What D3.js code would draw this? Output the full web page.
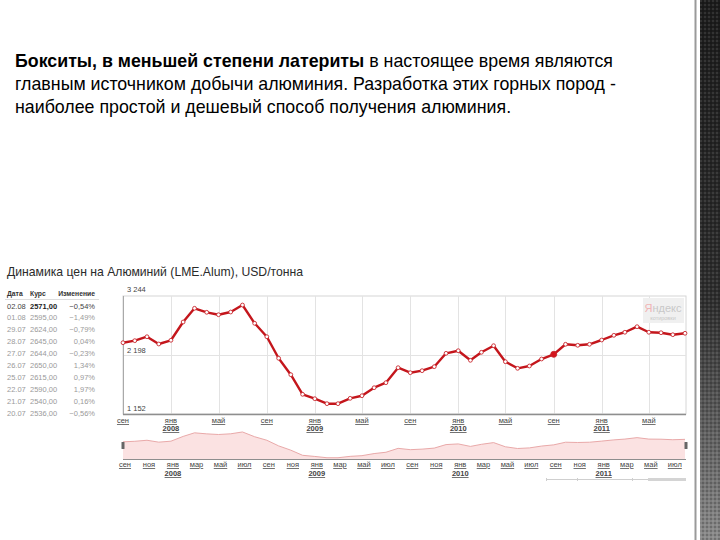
<!DOCTYPE html>
<html><head><meta charset="utf-8">
<script src="https://cdn.jsdelivr.net/npm/d3@7"></script>
<style>html,body{margin:0;padding:0;background:#fff;}svg{display:block;}</style>
</head><body>
<svg id="c" width="720" height="540"></svg>
<script>
// ---------- data ----------
const startMonth = "2007-09";               // first monthly point
const values = [2416,2452,2522,2393,2459,2783,3026,2955,2912,2960,3084,2760,
                2522,2140,1849,1501,1423,1335,1335,1430,1476,1618,1707,1973,
                1884,1920,1991,2228,2274,2104,2246,2363,2079,1962,2003,2127,
                2210,2388,2370,2388,2464,2547,2601,2700,2601,2593,2558,2583];
const highlightIndex = 36;
const yTicks = [1152, 2198, 3244];
const monthNames = ["янв","фев","мар","апр","май","июн","июл","авг","сен","окт","ноя","дек"];
const tableDates   = ["02.08","01.08","29.07","28.07","27.07","26.07","25.07","22.07","21.07","20.07"];
const tableRates   = ["2571,00","2595,00","2624,00","2645,00","2644,00","2650,00","2615,00","2590,00","2540,00","2536,00"];
const tableChanges = ["\u22120,54%","\u22121,49%","\u22120,79%","0,04%","\u22120,23%","1,34%","0,97%","1,97%","0,16%","\u22120,56%"];
const tableHeader  = ["Дата","Курс","Изменение"];
const chartTitle = "Динамика цен на Алюминий (LME.Alum), USD/тонна";

const parse = d3.timeParse("%Y-%m");
const t0 = parse(startMonth);
const series = values.map((v,i)=>({date:d3.timeMonth.offset(t0,i), value:v}));

const svg = d3.select("#c");
const F = "'Liberation Sans', Arial, sans-serif";

// ---------- slide text ----------
const txt = svg.append("text").attr("font-family",F).attr("font-size",17.8).attr("fill","#000");
const l1 = txt.append("tspan").attr("x",15).attr("y",67);
l1.append("tspan").attr("font-weight","bold").text("Бокситы, в меньшей степени латериты");
l1.append("tspan").text(" в настоящее время являются");
txt.append("tspan").attr("x",15).attr("y",90).text("главным источником добычи алюминия. Разработка этих горных пород  -");
txt.append("tspan").attr("x",15).attr("y",113).text("наиболее простой и дешевый способ получения алюминия.");

// ---------- right decoration ----------
const defs = svg.append("defs");
const g1 = defs.append("linearGradient").attr("id","dk").attr("x1",0).attr("y1",0).attr("x2",0).attr("y2",1);
g1.append("stop").attr("offset","0").attr("stop-color","#1c1c1c");
g1.append("stop").attr("offset","0.55").attr("stop-color","#2e2e2e");
g1.append("stop").attr("offset","1").attr("stop-color","#8a8a8a");
const pat = defs.append("pattern").attr("id","dots").attr("width",4).attr("height",4).attr("patternUnits","userSpaceOnUse");
pat.append("circle").attr("cx",1).attr("cy",1).attr("r",1).attr("fill","rgba(255,255,255,0.12)");
pat.append("circle").attr("cx",3).attr("cy",3).attr("r",1).attr("fill","rgba(0,0,0,0.25)");
svg.append("rect").attr("x",700).attr("y",0).attr("width",20).attr("height",540).attr("fill","url(#dk)");
svg.append("rect").attr("x",700).attr("y",0).attr("width",20).attr("height",540).attr("fill","url(#dots)");
svg.append("rect").attr("x",694.5).attr("y",0).attr("width",2).attr("height",540).attr("fill","#9a9a9a");

// ---------- chart title ----------
svg.append("text").attr("x",7).attr("y",276).attr("font-family",F).attr("font-size",12.2)
   .attr("fill","#2a2a2a").text(chartTitle);

// ---------- table ----------
const tf = 7.5;
const hdr = svg.append("g").attr("font-family",F).attr("font-size",6.8).attr("font-weight","bold").attr("fill","#333");
hdr.append("text").attr("x",7).attr("y",296).text(tableHeader[0]);
hdr.append("text").attr("x",30).attr("y",296).text(tableHeader[1]);
hdr.append("text").attr("x",95).attr("y",296).attr("text-anchor","end").text(tableHeader[2]);
svg.append("line").attr("x1",5).attr("x2",99).attr("y1",299.5).attr("y2",299.5).attr("stroke","#ddd");
const rowY = d3.scaleLinear().domain([0,9]).range([308.5,415.5]);
tableDates.forEach((d,i)=>{
  const col = i===0 ? "#444" : "#9a9a9a";
  const g = svg.append("g").attr("font-family",F).attr("font-size",tf).attr("fill",col);
  g.append("text").attr("x",7).attr("y",rowY(i)).text(d);
  g.append("text").attr("x",30).attr("y",rowY(i)).attr("font-weight",i===0?"bold":"normal").attr("fill",i===0?"#222":col).text(tableRates[i]);
  g.append("text").attr("x",95).attr("y",rowY(i)).attr("text-anchor","end").text(tableChanges[i]);
});

// ---------- main chart ----------
const pL=123, pR=686, pT=296, pB=414;
const x = d3.scaleTime().domain([series[0].date, series[series.length-1].date]).range([pL, 685]);
const y = d3.scaleLinear().domain([yTicks[0], yTicks[2]]).range([pB, pT]);

// frame
svg.append("rect").attr("x",pL).attr("y",pT).attr("width",pR-pL).attr("height",pB-pT)
   .attr("fill","#fff").attr("stroke","#d6d6d6");
// grid
const gridTicks = d3.timeMonth.range(x.domain()[0], d3.timeMonth.offset(x.domain()[1],1))
   .filter(d=>[0,4,8].includes(d.getMonth()));
svg.append("g").selectAll("line").data(gridTicks).join("line")
   .attr("x1",d=>Math.round(x(d))+0.5).attr("x2",d=>Math.round(x(d))+0.5).attr("y1",pT).attr("y2",pB)
   .attr("stroke","#e3e3e3");
svg.append("line").attr("x1",pL).attr("x2",pR).attr("y1",Math.round(y(yTicks[1]))+0.5).attr("y2",Math.round(y(yTicks[1]))+0.5).attr("stroke","#e3e3e3");
// axis lines
svg.append("line").attr("x1",pL+0.5).attr("x2",pL+0.5).attr("y1",pT).attr("y2",pB).attr("stroke","#a9a9a9");
svg.append("line").attr("x1",pL).attr("x2",pR).attr("y1",pB+0.5).attr("y2",pB+0.5).attr("stroke","#8e8e8e").attr("stroke-width",1.5);

// y labels
const fmt = v => d3.format(",")(v).replace(/,/g," ");
svg.append("g").attr("font-family",F).attr("font-size",7.5).attr("fill","#444")
  .selectAll("text").data(yTicks).join("text")
  .attr("x",127).attr("y",(d,i)=> i===2 ? pT-4 : (i===1 ? y(d)-2 : y(d)-3)).text(fmt);

// x axis labels
const xlab = svg.append("g").attr("font-family",F).attr("font-size",7.5).attr("fill","#444");
gridTicks.forEach(d=>{
  xlab.append("text").attr("x",x(d)).attr("y",423).attr("text-anchor","middle")
      .attr("text-decoration","underline").text(monthNames[d.getMonth()]);
  if(d.getMonth()===0) xlab.append("text").attr("x",x(d)).attr("y",431).attr("text-anchor","middle")
      .attr("font-weight","bold").attr("text-decoration","underline").text(d.getFullYear());
});

// yandex logo
const lg = svg.append("g");
lg.append("rect").attr("x",643).attr("y",298).attr("width",41).attr("height",25).attr("fill","#f0f0f0");
lg.append("text").attr("x",663).attr("y",312).attr("text-anchor","middle").attr("font-family",F).attr("font-size",11)
  .attr("fill","#c8c8c8").html('<tspan fill="#f0b4b4">Я</tspan>ндекс');
lg.append("text").attr("x",663).attr("y",320).attr("text-anchor","middle").attr("font-family",F).attr("font-size",5.5)
  .attr("fill","#c8c8c8").text("котировки");

// line
const line = d3.line().x(d=>x(d.date)).y(d=>y(d.value));
svg.append("path").datum(series).attr("d",line).attr("fill","none").attr("stroke","#c4161c")
   .attr("stroke-width",2.4).attr("stroke-linejoin","round");
svg.append("g").selectAll("circle").data(series).join("circle")
   .attr("cx",d=>x(d.date)).attr("cy",d=>y(d.value)).attr("r",(d,i)=>i===highlightIndex?3:1.9)
   .attr("fill",(d,i)=>i===highlightIndex?"#d4141c":"#fff").attr("stroke","#c8262c").attr("stroke-width",0.9);

// ---------- navigator ----------
const nb = 459;
const yn = d3.scaleLinear().domain([1250, 3150]).range([nb, 431]);
const area = d3.area().x(d=>x(d.date)).y0(nb).y1(d=>yn(d.value));
svg.append("path").datum(series).attr("d",area).attr("fill","#fbe2e2");
svg.append("path").datum(series).attr("d",d3.line().x(d=>x(d.date)).y(d=>yn(d.value)))
   .attr("fill","none").attr("stroke","#e9a9a9").attr("stroke-width",1);
svg.append("line").attr("x1",pL).attr("x2",pR).attr("y1",nb+0.5).attr("y2",nb+0.5).attr("stroke","#8e8e8e").attr("stroke-width",1.2);
[pL, pR].forEach(px=>{
  svg.append("rect").attr("x",px-1.5).attr("y",442).attr("width",3).attr("height",7).attr("fill","#666").attr("rx",0.5);
});
const nlab = svg.append("g").attr("font-family",F).attr("font-size",7.5).attr("fill","#444");
d3.timeMonth.range(x.domain()[0], d3.timeMonth.offset(x.domain()[1],1))
  .filter(d=>[0,2,4,6,8,10].includes(d.getMonth()))
  .forEach(d=>{
    nlab.append("text").attr("x",x(d)+2).attr("y",467).attr("text-anchor","middle")
        .attr("text-decoration","underline").text(monthNames[d.getMonth()]);
    if(d.getMonth()===0) nlab.append("text").attr("x",x(d)+2).attr("y",476).attr("text-anchor","middle")
        .attr("font-weight","bold").attr("text-decoration","underline").text(d.getFullYear());
  });

// scrollbar
svg.append("line").attr("x1",546).attr("x2",686).attr("y1",479.5).attr("y2",479.5).attr("stroke","#cfcfcf");
[546,577,632].forEach(px=>svg.append("line").attr("x1",px+0.5).attr("x2",px+0.5).attr("y1",478).attr("y2",481).attr("stroke","#cfcfcf"));
svg.append("rect").attr("x",648).attr("y",478).attr("width",38).attr("height",3).attr("fill","#d4d4d4");
</script>
</body></html>
